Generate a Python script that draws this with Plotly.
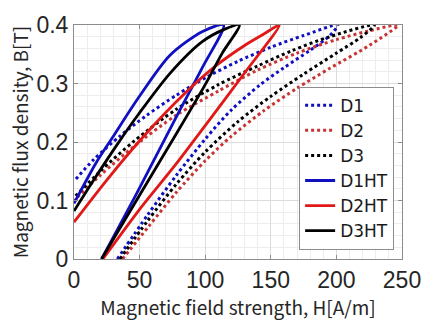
import plotly.graph_objects as go

# ---- data (H in A/m, B in T) ----
# dotted loops (as received)
d1_lower_h = [33, 56, 78, 100, 120, 142, 160, 180, 195, 201]
d1_lower_b = [0, 0.075, 0.143, 0.205, 0.255, 0.298, 0.327, 0.357, 0.382, 0.4]
d1_upper_h = [201, 175, 150, 125, 102, 78, 55, 35, 15, 0]
d1_upper_b = [0.4, 0.382, 0.362, 0.338, 0.312, 0.28, 0.245, 0.21, 0.17, 0.133]

d2_lower_h = [37, 57, 78, 100, 120, 145, 170, 195, 225, 247]
d2_lower_b = [0, 0.056, 0.114, 0.168, 0.21, 0.254, 0.292, 0.326, 0.365, 0.4]
d2_upper_h = [247, 225, 200, 170, 140, 110, 78, 46, 20, 0]
d2_upper_b = [0.4, 0.39, 0.375, 0.352, 0.323, 0.287, 0.246, 0.193, 0.143, 0.10]

d3_lower_h = [35, 56, 78, 100, 125, 150, 175, 200, 218, 229]
d3_lower_b = [0, 0.065, 0.128, 0.183, 0.235, 0.278, 0.316, 0.352, 0.378, 0.4]
d3_upper_h = [229, 195, 166, 140, 110, 78, 46, 20, 0]
d3_upper_b = [0.4, 0.38, 0.356, 0.33, 0.298, 0.256, 0.202, 0.15, 0.105]

# solid loops (heat treated)
d1ht_lower_h = [21, 48, 78, 98, 114]
d1ht_lower_b = [0, 0.113, 0.243, 0.328, 0.4]
d1ht_upper_h = [114, 98, 73, 48.6, 30, 17, 0]
d1ht_upper_b = [0.4, 0.389, 0.348, 0.274, 0.21, 0.165, 0.095]

d2ht_lower_h = [22, 50, 78, 105, 130, 156.5]
d2ht_lower_b = [0, 0.085, 0.163, 0.243, 0.318, 0.4]
d2ht_upper_h = [156.5, 145, 130, 108, 83, 56, 25, 0]
d2ht_upper_b = [0.4, 0.385, 0.365, 0.33, 0.28, 0.217, 0.135, 0.063]

d3ht_lower_h = [21, 48.6, 78, 100, 113, 126]
d3ht_lower_b = [0, 0.104, 0.214, 0.298, 0.352, 0.4]
d3ht_upper_h = [126, 115, 98, 73, 49, 33, 15, 0]
d3ht_upper_b = [0.4, 0.393, 0.372, 0.317, 0.247, 0.196, 0.135, 0.082]

names = ["D1", "D2", "D3", "D1HT", "D2HT", "D3HT"]
x_ticks = [0, 50, 100, 150, 200, 250]
y_ticks = [0, 0.1, 0.2, 0.3, 0.4]
y_tick_text = ["0", "0.1", "0.2", "0.3", "0.4"]

BLUE = "#1010C0"
RED = "#E01818"
DRED = "#C83434"
BLACK = "#000000"

loops = [
    (d1_lower_h, d1_lower_b, d1_upper_h, d1_upper_b, BLUE, "dot"),
    (d2_lower_h, d2_lower_b, d2_upper_h, d2_upper_b, DRED, "dot"),
    (d3_lower_h, d3_lower_b, d3_upper_h, d3_upper_b, BLACK, "dot"),
    (d1ht_lower_h, d1ht_lower_b, d1ht_upper_h, d1ht_upper_b, BLUE, "solid"),
    (d2ht_lower_h, d2ht_lower_b, d2ht_upper_h, d2ht_upper_b, RED, "solid"),
    (d3ht_lower_h, d3ht_lower_b, d3ht_upper_h, d3ht_upper_b, BLACK, "solid"),
]

fig = go.Figure()
for name, (lh, lb, uh, ub, col, dash) in zip(names, loops):
    xs = list(lh) + list(uh[1:])
    ys = list(lb) + list(ub[1:])
    fig.add_trace(go.Scatter(
        x=xs, y=ys, mode="lines", name=name,
        line=dict(color=col, width=3 if dash == "dot" else 2.8, dash=dash,
                  shape="spline", smoothing=0.8),
    ))

tick_font = dict(family="Liberation Sans, Arial, sans-serif", size=23, color="#262626")
title_font = dict(family="Noto Sans CJK JP, sans-serif", size=19, color="#262626")
axis_common = dict(
    showline=True, linecolor="#8C8C8C", linewidth=1, mirror="ticks",
    ticks="inside", ticklen=4, tickcolor="#8C8C8C",
    showgrid=True, gridcolor="#DCDCDC", gridwidth=1, zeroline=False,
    tickfont=tick_font,
)

fig.update_xaxes(
    range=[0, 250], tickvals=x_ticks,
    title=dict(text="Magnetic field strength, H[A/m]", font=title_font, standoff=2),
    minor=dict(dtick=10, tick0=0, showgrid=True, gridcolor="#EDEDED", ticks=""),
    **axis_common,
)
fig.update_yaxes(
    range=[0, 0.4], tickvals=y_ticks, ticktext=y_tick_text,
    title=dict(text="Magnetic flux density, B[T]", font=title_font, standoff=2),
    minor=dict(dtick=0.02, tick0=0, showgrid=True, gridcolor="#EDEDED", ticks=""),
    **axis_common,
)

fig.update_layout(
    width=433, height=320,
    margin=dict(l=74, r=20, t=15, b=58),
    paper_bgcolor="white", plot_bgcolor="white",
    showlegend=True,
    legend=dict(
        x=0.976, y=0.04, xanchor="right", yanchor="bottom",
        bgcolor="white", bordercolor="#8C8C8C", borderwidth=1,
        font=dict(family="DejaVu Sans, sans-serif", size=17, color="#1A1A1A"),
        itemwidth=30, tracegroupgap=0,
    ),
)

fig.write_html("out.html")
